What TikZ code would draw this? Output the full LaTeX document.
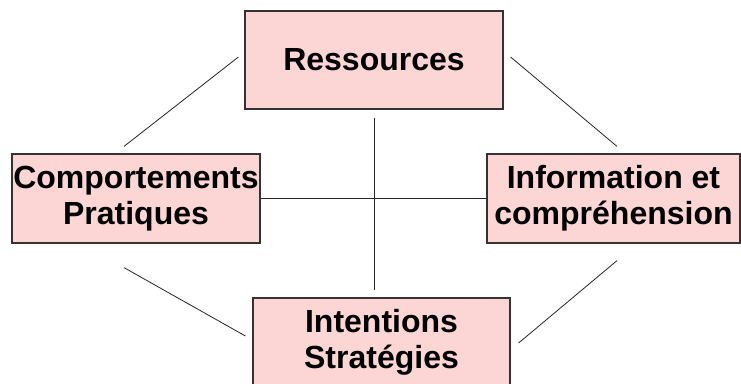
\documentclass[tikz,border=0pt]{standalone}
\usepackage{fontspec}
\setmainfont{Liberation Sans}
\definecolor{boxpink}{RGB}{252,213,213}
\tikzset{
  pole/.style={draw=black!80, fill=boxpink, line width=1.2pt, align=center,
    inner sep=0pt, font=\bfseries\fontsize{32}{36}\selectfont},
  link/.style={draw=black!85, line width=0.8pt}
}

\begin{document}
\begin{tikzpicture}[x=1pt,y=-1pt]
\useasboundingbox (0,0) rectangle (741,383);
  % the four poles
  \node[pole, minimum width=258pt, minimum height=98pt] (res) at (374,60) {Ressources};
  \node[pole, minimum width=248pt, minimum height=89pt] (comp) at (136,198.5) {Comportements\\Pratiques};
  \node[pole, minimum width=253pt, minimum height=89pt] (info) at (613.5,198.5) {Information et\\compr\'ehension};
  \node[pole, minimum width=257pt, minimum height=89pt] (intent) at (381.5,342.5) {Intentions\\Strat\'egies};
  % the cross
  \draw[link, shorten <=8pt, shorten >=7pt] (res.south) -- (res.south |- intent.north);
  \draw[link] (comp.east) -- (info.west);
  % the sides
  \draw[link] ([shift={(-6,-3)}]res.west) -- ([shift={(-12,-7)}]comp.north);
  \draw[link] ([shift={(7,-3)}]res.east) -- ([shift={(3.5,-7)}]info.north);
  \draw[link] ([shift={(-12,24)}]comp.south) -- ([shift={(-7,-6.5)}]intent.west);
  \draw[link] ([shift={(3.5,17)}]info.south) -- ([shift={(8,0.5)}]intent.east);
\end{tikzpicture}
\end{document}
